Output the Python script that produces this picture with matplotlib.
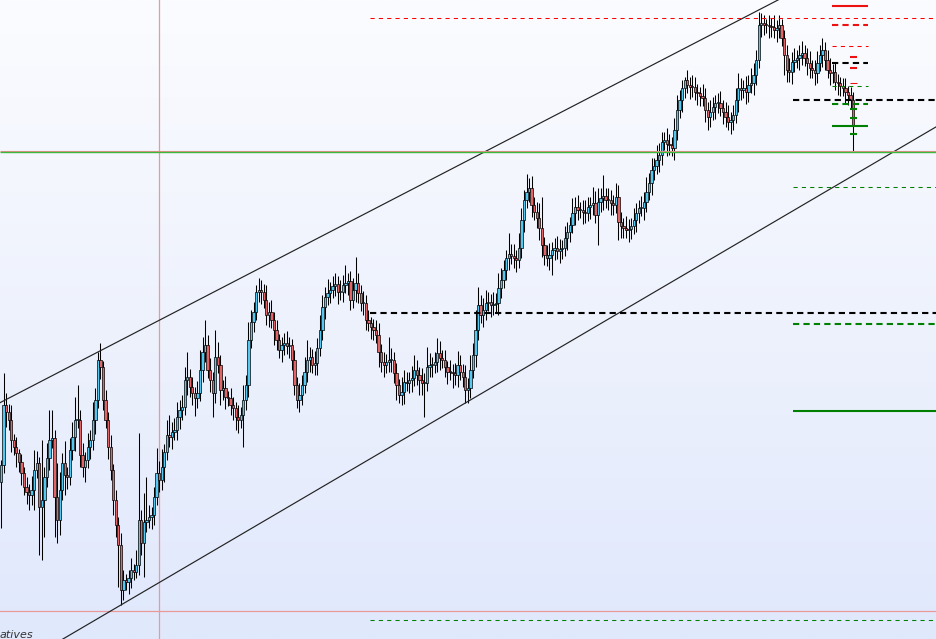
import numpy as np
import matplotlib
matplotlib.use("Agg")
import matplotlib.pyplot as plt
from matplotlib.colors import LinearSegmentedColormap

# closing prices, one per bar (open of each bar = previous close)
first_open = 158
closes = [
    175, 235, 228, 220, 200, 193, 187, 178, 167, 153,
    148, 145, 150, 170, 177, 133, 140, 163, 182, 200,
    202, 143, 120, 150, 177, 165, 163, 190, 203, 220,
    220, 185, 173, 180, 193, 200, 220, 240, 280, 273,
    240, 220, 193, 170, 140, 115, 95, 50, 60, 58,
    62, 70, 68, 75, 120, 97, 118, 120, 123, 125,
    143, 167, 160, 173, 188, 205, 203, 208, 210, 223,
    230, 233, 260, 263, 253, 247, 242, 247, 270, 288,
    295, 270, 260, 247, 283, 275, 250, 252, 243, 242,
    235, 232, 223, 220, 225, 240, 255, 300, 318, 328,
    348, 350, 348, 340, 325, 328, 320, 310, 300, 290,
    295, 297, 294, 295, 280, 255, 240, 245, 255, 268,
    280, 283, 275, 277, 292, 310, 333, 343, 347, 350,
    354, 356, 348, 348, 355, 357, 359, 340, 350, 357,
    347, 337, 337, 320, 317, 313, 310, 305, 288, 278,
    275, 278, 280, 280, 267, 255, 245, 248, 258, 257,
    260, 262, 270, 265, 260, 257, 257, 273, 275, 275,
    278, 287, 282, 280, 273, 268, 268, 267, 265, 275,
    268, 263, 250, 252, 270, 285, 310, 335, 325, 330,
    337, 338, 335, 336, 337, 352, 360, 370, 382, 386,
    384, 382, 380, 392, 420, 440, 448, 452, 435, 428,
    422, 412, 395, 385, 382, 385, 390, 392, 389, 391,
    392, 402, 408, 415, 427, 433, 430, 430, 428, 427,
    433, 435, 437, 425, 438, 442, 444, 440, 440, 437,
    435, 443, 418, 414, 412, 410, 411, 414, 420, 427,
    432, 432, 438, 448, 457, 470, 474, 480, 485, 498,
    500, 496, 495, 492, 510, 530, 540, 552, 560, 555,
    553, 553, 548, 547, 544, 542, 530, 523, 528, 533,
    537, 537, 532, 528, 523, 518, 520, 525, 540, 552,
    550, 552, 548, 555, 557, 565, 580, 615, 617, 615,
    615, 614, 613, 610, 612, 615, 602, 585, 570, 568,
    578, 580, 582, 585, 587, 582, 577, 572, 570, 567,
    577, 585, 590, 580, 570, 567, 568, 558, 557, 554,
    552, 548, 545, 540, 515,
]

# wick length above / below the body of each bar
wick_up = [
    5, 32, 12, 8, 15, 6, 10, 4, 8, 6,
    10, 8, 14, 20, 12, 6, 60, 10, 15, 30,
    28, 8, 34, 18, 10, 22, 8, 12, 15, 23,
    35, 10, 12, 8, 14, 10, 18, 12, 8, 17,
    6, 10, 8, 12, 6, 10, 8, 12, 10, 6,
    8, 12, 6, 15, 87, 10, 29, 43, 12, 8,
    10, 25, 12, 18, 8, 15, 20, 10, 12, 15,
    10, 12, 13, 25, 8, 10, 6, 12, 20, 15,
    25, 10, 12, 8, 27, 15, 10, 8, 12, 6,
    10, 8, 6, 12, 8, 15, 10, 18, 12, 10,
    7, 12, 10, 8, 15, 10, 12, 8, 10, 6,
    8, 10, 12, 8, 6, 10, 8, 12, 10, 15,
    20, 10, 8, 12, 10, 15, 12, 10, 14, 8,
    10, 11, 8, 12, 10, 18, 8, 10, 12, 26,
    10, 8, 12, 8, 10, 6, 8, 10, 12, 8,
    10, 8, 23, 12, 8, 10, 6, 15, 12, 10,
    8, 12, 15, 10, 8, 12, 10, 20, 12, 8,
    10, 15, 12, 8, 10, 6, 12, 8, 10, 14,
    10, 8, 12, 10, 15, 12, 20, 18, 10, 12,
    13, 10, 8, 12, 10, 15, 12, 10, 8, 21,
    10, 12, 8, 15, 12, 10, 18, 10, 12, 8,
    10, 15, 31, 8, 10, 12, 8, 10, 12, 10,
    8, 12, 10, 8, 15, 10, 12, 8, 10, 12,
    10, 8, 16, 12, 14, 10, 21, 8, 12, 10,
    8, 14, 12, 10, 8, 12, 10, 8, 12, 10,
    8, 12, 10, 15, 10, 12, 8, 15, 12, 10,
    8, 12, 10, 8, 12, 15, 10, 8, 3, 10,
    8, 12, 10, 8, 6, 12, 10, 8, 12, 10,
    8, 10, 12, 8, 10, 12, 8, 10, 12, 15,
    10, 8, 12, 10, 15, 12, 10, 13, 10, 8,
    6, 10, 8, 12, 8, 10, 6, 8, 10, 12,
    10, 12, 8, 10, 12, 8, 10, 12, 8, 10,
    12, 10, 12, 8, 10, 12, 8, 10, 8, 6,
    8, 10, 6, 8, 8,
]
wick_dn = [
    46, 8, 15, 10, 12, 8, 14, 10, 12, 8,
    12, 15, 10, 20, 8, 48, 53, 37, 10, 12,
    8, 40, 23, 15, 10, 20, 12, 8, 10, 14,
    8, 12, 10, 15, 8, 12, 10, 14, 8, 12,
    10, 8, 12, 10, 15, 12, 42, 15, 10, 8,
    12, 10, 8, 6, 10, 12, 34, 10, 8, 12,
    10, 8, 12, 10, 15, 8, 10, 12, 8, 10,
    12, 10, 8, 15, 10, 12, 18, 10, 8, 12,
    10, 8, 12, 24, 10, 8, 15, 10, 12, 8,
    10, 12, 13, 13, 8, 32, 10, 12, 8, 10,
    8, 10, 12, 8, 10, 12, 8, 15, 10, 8,
    12, 10, 8, 12, 10, 10, 8, 12, 10, 8,
    10, 12, 8, 10, 12, 8, 10, 12, 8, 10,
    8, 10, 12, 8, 10, 8, 12, 10, 8, 12,
    10, 8, 12, 10, 8, 12, 10, 8, 15, 10,
    12, 8, 10, 12, 10, 15, 8, 10, 12, 8,
    10, 12, 8, 10, 15, 12, 34, 8, 10, 12,
    8, 10, 12, 8, 10, 12, 8, 15, 10, 12,
    8, 10, 13, 13, 10, 8, 12, 10, 8, 12,
    10, 8, 12, 10, 8, 12, 10, 8, 10, 12,
    8, 10, 12, 8, 10, 12, 8, 10, 12, 8,
    10, 12, 12, 10, 8, 12, 20, 10, 8, 12,
    10, 8, 12, 10, 8, 12, 10, 8, 12, 10,
    8, 12, 10, 8, 30, 10, 12, 8, 10, 12,
    10, 8, 18, 12, 10, 8, 12, 10, 8, 12,
    10, 8, 12, 10, 8, 12, 10, 8, 12, 10,
    8, 12, 10, 8, 12, 10, 8, 12, 10, 8,
    12, 10, 8, 12, 10, 8, 12, 13, 10, 8,
    12, 10, 8, 12, 10, 8, 12, 10, 8, 12,
    10, 8, 12, 10, 8, 12, 10, 8, 12, 10,
    8, 12, 10, 8, 12, 10, 8, 20, 12, 10,
    12, 10, 8, 12, 10, 8, 12, 10, 8, 12,
    10, 8, 12, 10, 8, 12, 10, 8, 12, 10,
    8, 12, 10, 8, 26,
]

# channel anchors (bar index, price)
chan_top = [(38, 288), (297, 630)]
chan_bot = [(47, 35), (182, 237)]

# levels drawn from the middle of the chart
lvl_red_top = 622
lvl_pivot = 327
lvl_green_low = 20
lvl_support = 488.5
# levels drawn from the right-hand zone
zone_black = 540
zone_green_thin = 453
zone_green_dash = 316
zone_green_solid = 229
# short marks next to the last bar
mark_red_solid = 634
mark_red_dash = 615
mark_red_thin = 594
mark_black = 577
mark_green_thin = 554
mark_green_dash = 536
mark_green_solid = 514
tick_red = [583, 572]
tick_red_thin = 557
tick_green = [531, 522, 506]
cross_bar = 62.1
cross_price = 29

opens = [first_open] + closes[:-1]
o = np.array(opens, dtype=float)
c = np.array(closes, dtype=float)
n = len(c)
idx = np.arange(n)
body_top = np.maximum(o, c)
body_bot = np.minimum(o, c)
highs = body_top + np.array(wick_up)
lows = body_bot - np.array(wick_dn)

fig = plt.figure(figsize=(9.37, 6.39), dpi=100)
ax = fig.add_axes([0, 0, 1, 1])
xmin, xmax = -0.39, 366.9
ymin, ymax = 1, 640
ax.set_xlim(xmin, xmax)
ax.set_ylim(ymin, ymax)
ax.axis("off")

# background gradient
bg = LinearSegmentedColormap.from_list("bg", ["#e0e8fc", "#eef2fd", "#fbfcff"])
grad = np.linspace(0, 1, 256).reshape(-1, 1)
ax.imshow(grad, cmap=bg, origin="lower", aspect="auto",
          extent=[xmin, xmax, ymin, ymax], zorder=0)

# crosshair
ax.axvline(cross_bar, color="#e89a9a", lw=0.9, zorder=1)
ax.axhline(cross_price, color="#e89a9a", lw=0.9, zorder=1)

# candles
ax.vlines(idx, lows, highs, color="black", lw=0.75, zorder=2)
heights = np.where(np.abs(c - o) < 0.8, 0.8, body_top - body_bot)
cols = np.where(c >= o, "#55c8f2", "#e26464")
ax.bar(idx, heights, bottom=body_bot, width=0.9, color=cols,
       edgecolor="black", linewidth=0.5, zorder=3)

# channel
for (x0, y0), (x1, y1) in (chan_top, chan_bot):
    k = (y1 - y0) / (x1 - x0)
    ax.plot([xmin, xmax], [y0 + k * (xmin - x0), y0 + k * (xmax - x0)],
            color="#222222", lw=0.85, zorder=4)

px = (xmax - xmin) / 937.0
mid_start = 370 * px + xmin
zone_start = 793 * px + xmin
m0, m1 = 832 * px + xmin, 868 * px + xmin
t0, t1 = 850 * px + xmin, 857 * px + xmin
thick = 1.5
thin = 0.75

ax.hlines(lvl_support + 1, xmin, xmax, color="#f08c8c", lw=0.8, zorder=4)
ax.hlines(lvl_support, xmin, xmax, color="#3cb83c", lw=1.0, zorder=4)
ax.hlines(lvl_red_top, mid_start, xmax, color="#ff0000", lw=thin,
          linestyles=(0, (4, 4)), zorder=4)
ax.hlines(lvl_pivot, mid_start, xmax, color="black", lw=thick,
          linestyles=(0, (3, 2)), zorder=4)
ax.hlines(lvl_green_low, mid_start, xmax, color="#008000", lw=thin,
          linestyles=(0, (4, 4)), zorder=4)

ax.hlines(zone_black, zone_start, xmax, color="black", lw=thick,
          linestyles=(0, (3, 2)), zorder=4)
ax.hlines(zone_green_thin, zone_start, xmax, color="#008000", lw=thin,
          linestyles=(0, (4, 4)), zorder=4)
ax.hlines(zone_green_dash, zone_start, xmax, color="#008000", lw=thick,
          linestyles=(0, (3, 2)), zorder=4)
ax.hlines(zone_green_solid, zone_start, xmax, color="#008000", lw=thick, zorder=4)

ax.hlines(mark_red_solid, m0, m1, color="#ee1111", lw=thick, zorder=4)
ax.hlines(mark_red_dash, m0, m1, color="#ee1111", lw=thick,
          linestyles=(0, (3, 2)), zorder=4)
ax.hlines(mark_red_thin, m0, m1, color="#ff0000", lw=thin,
          linestyles=(0, (4, 4)), zorder=4)
ax.hlines(mark_black, m0, m1, color="black", lw=thick,
          linestyles=(0, (3, 2)), zorder=4)
ax.hlines(mark_green_thin, m0, m1, color="#008000", lw=thin,
          linestyles=(0, (4, 4)), zorder=4)
ax.hlines(mark_green_dash, m0, m1, color="#008000", lw=thick,
          linestyles=(0, (3, 2)), zorder=4)
ax.hlines(mark_green_solid, m0, m1, color="#008000", lw=thick, zorder=4)
ax.hlines(tick_red, t0, t1, color="#ee1111", lw=thick, zorder=4)
ax.hlines(tick_red_thin, t0, t1, color="#ee1111", lw=thin, zorder=4)
ax.hlines(tick_green, t0, t1, color="#008000", lw=thick, zorder=4)

fig.text(0.0, 0.001, "atives", fontsize=8, fontstyle="italic",
         color="#333333", ha="left", va="baseline")

fig.savefig("out.png", dpi=100)
